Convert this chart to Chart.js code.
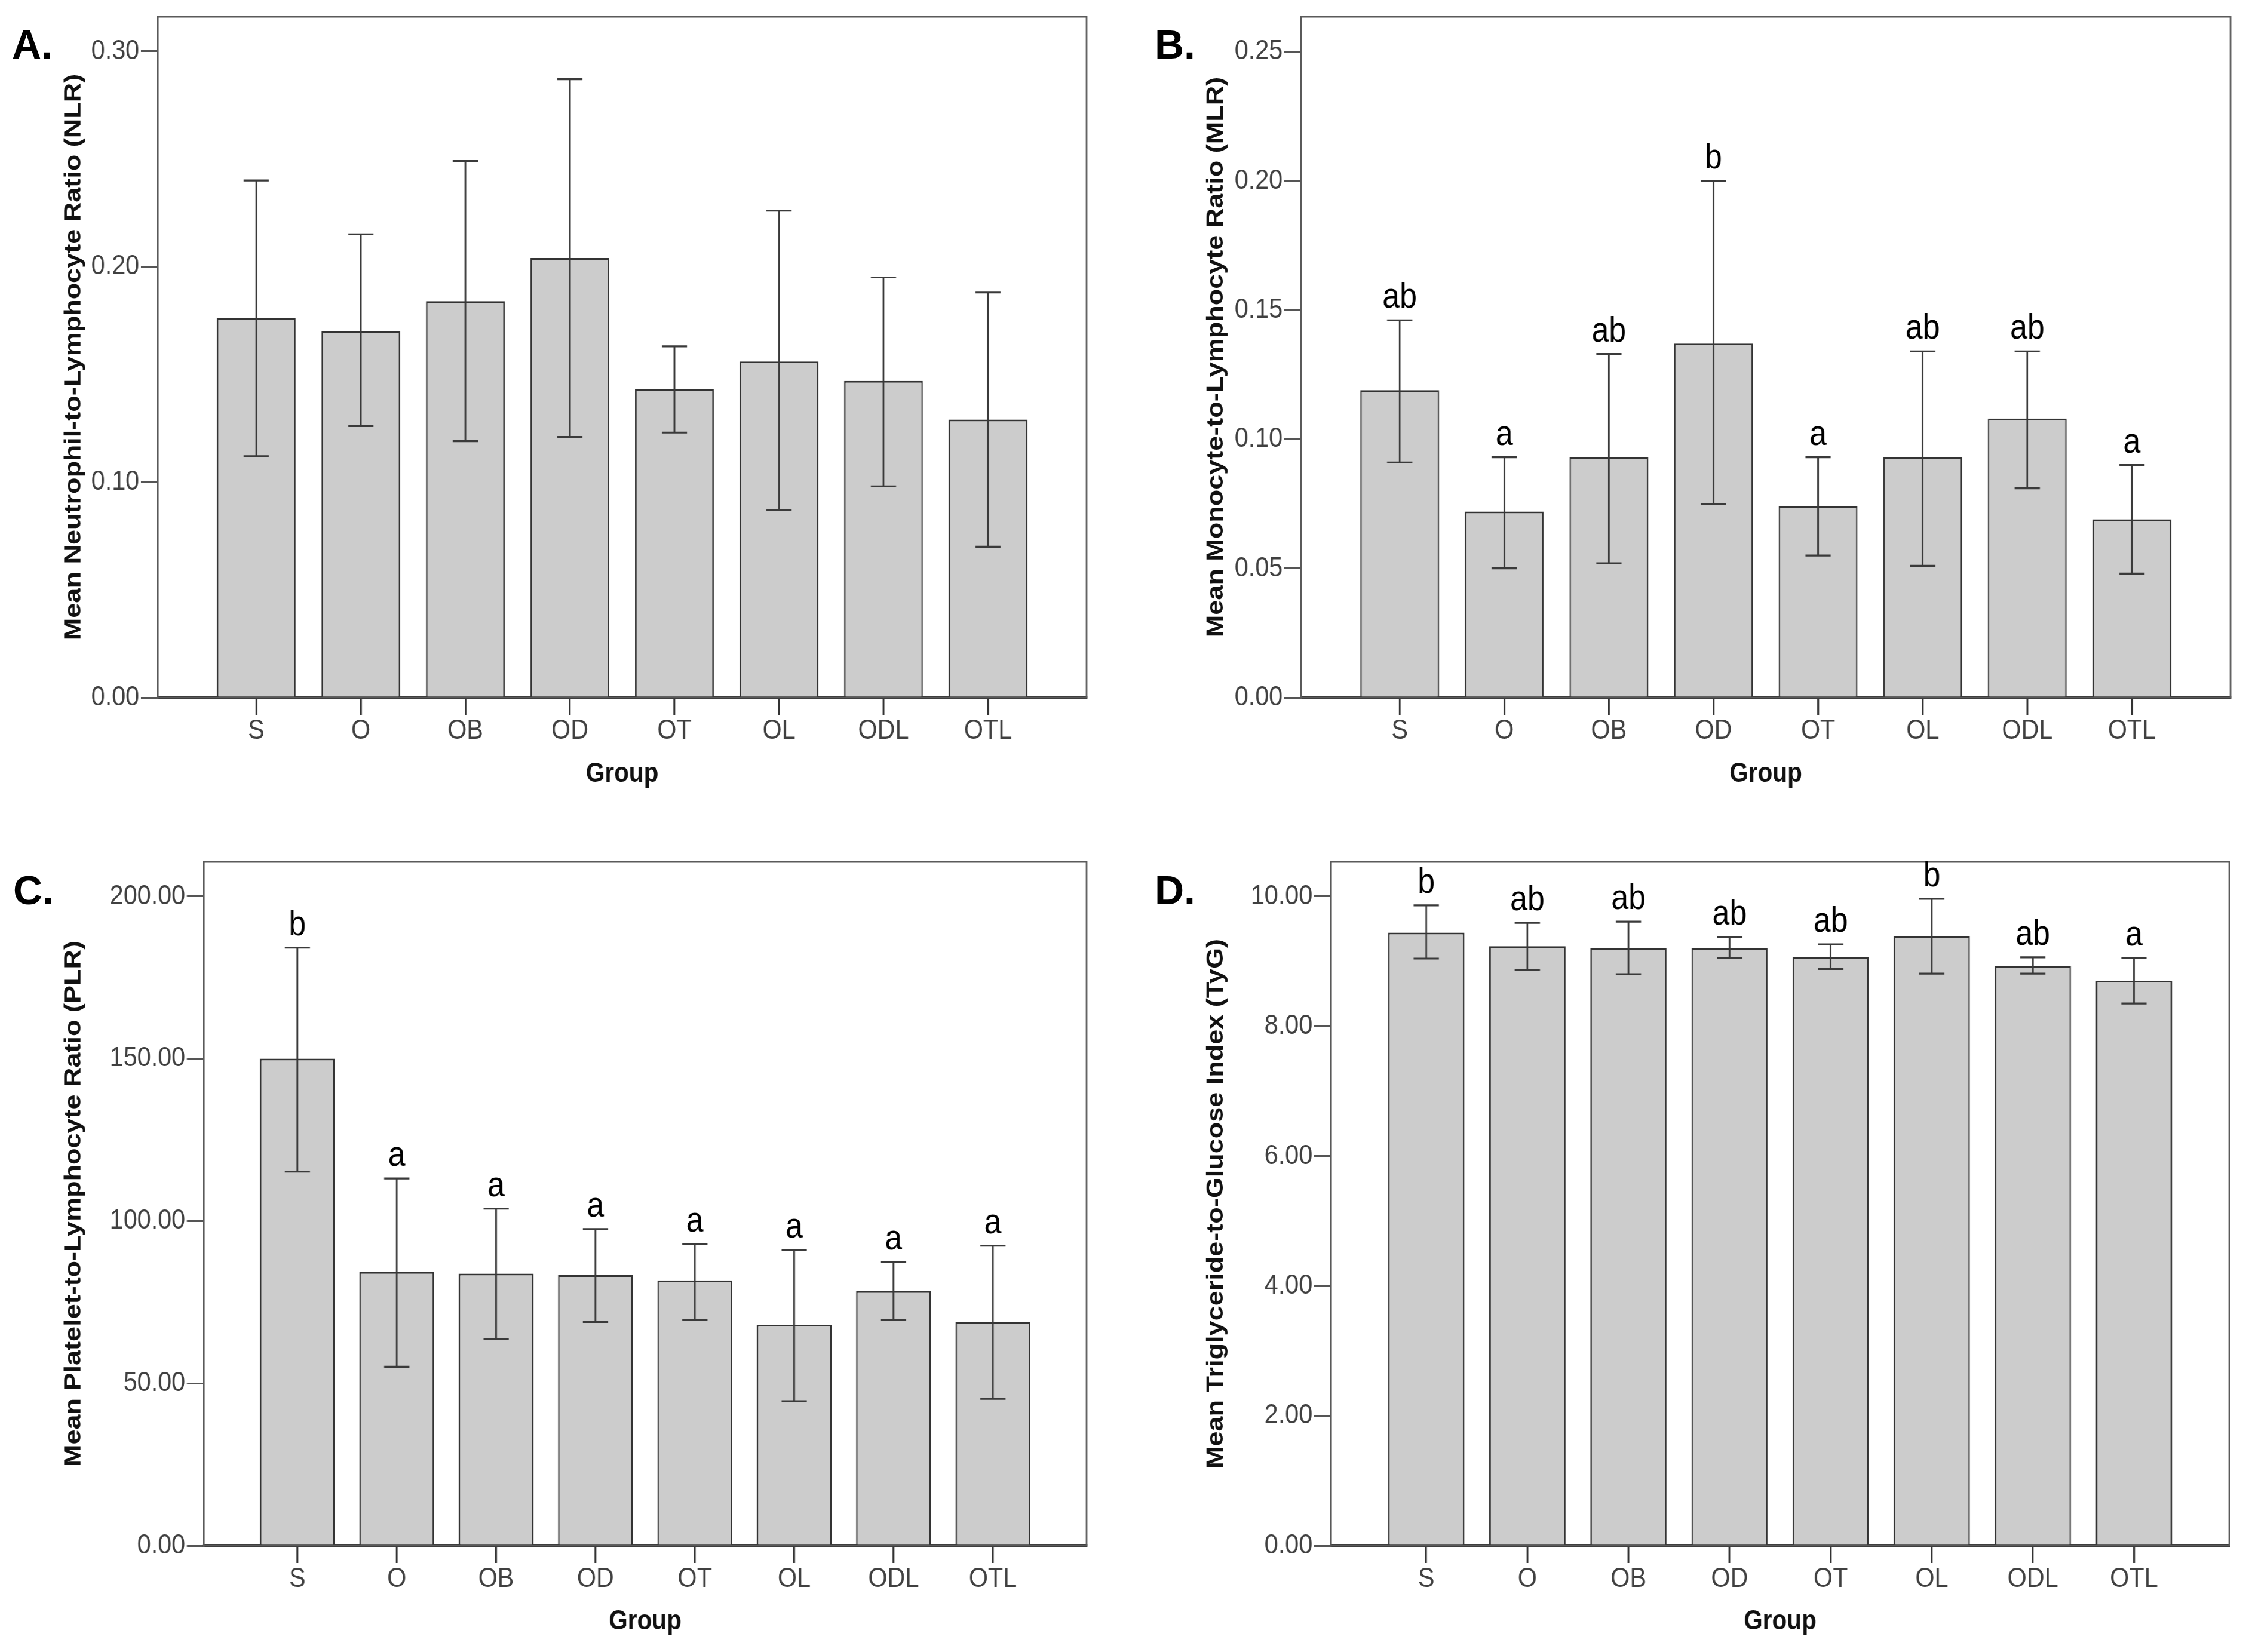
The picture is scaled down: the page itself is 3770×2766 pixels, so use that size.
<!DOCTYPE html>
<html>
<head>
<meta charset="utf-8">
<script src="https://cdn.jsdelivr.net/npm/chart.js@4.4.0/dist/chart.umd.min.js"></script>
<style>
  body { margin: 0; background: #fff; }
  #wrap { position: relative; width: 3770px; height: 2766px; overflow: hidden; background: #fff; }
  #wrap canvas { position: absolute; }
  .tag { position: absolute; font: bold 68px 'Liberation Sans', Arial, sans-serif; line-height: 1; color: #000; }
</style>
</head>
<body>
<div id="wrap">
  <canvas id="nlr" width="2142" height="1383" style="left:0;top:0;width:1885px;height:1383px"></canvas>
  <canvas id="mlr" width="2142" height="1383" style="left:1885px;top:0;width:1885px;height:1383px"></canvas>
  <canvas id="plr" width="2142" height="1383" style="left:0;top:1383px;width:1885px;height:1383px"></canvas>
  <canvas id="tyg" width="2142" height="1383" style="left:1885px;top:1383px;width:1885px;height:1383px"></canvas>
  <div class="tag" style="left:20px;top:40px">A.</div>
  <div class="tag" style="left:1933px;top:40px">B.</div>
  <div class="tag" style="left:22px;top:1456px">C.</div>
  <div class="tag" style="left:1933px;top:1456px">D.</div>
</div>
<script>
const groups = ["S", "O", "OB", "OD", "OT", "OL", "ODL", "OTL"];

// A. NLR
const nlrMean = [0.176, 0.170, 0.184, 0.204, 0.143, 0.156, 0.147, 0.129];
const nlrLow  = [0.112, 0.126, 0.119, 0.121, 0.123, 0.087, 0.098, 0.070];
const nlrHigh = [0.240, 0.215, 0.249, 0.287, 0.163, 0.226, 0.195, 0.188];
const nlrTicks = [0, 0.10, 0.20, 0.30];

// B. MLR
const mlrMean = [0.119, 0.072, 0.093, 0.137, 0.074, 0.093, 0.108, 0.069];
const mlrLow  = [0.091, 0.050, 0.052, 0.075, 0.055, 0.051, 0.081, 0.048];
const mlrHigh = [0.146, 0.093, 0.133, 0.200, 0.093, 0.134, 0.134, 0.090];
const mlrLetters = ["ab", "a", "ab", "b", "a", "ab", "ab", "a"];
const mlrTicks = [0, 0.05, 0.10, 0.15, 0.20, 0.25];

// C. PLR
const plrMean = [150.0, 84.3, 83.8, 83.3, 81.7, 68.0, 78.4, 68.8];
const plrLow  = [115.2, 55.1, 63.6, 68.9, 69.6, 44.5, 69.6, 45.2];
const plrHigh = [184.2, 113.1, 103.8, 97.5, 92.9, 91.1, 87.4, 92.4];
const plrLetters = ["b", "a", "a", "a", "a", "a", "a", "a"];
const plrTicks = [0, 50, 100, 150, 200];

// D. TyG
const tygMean = [9.44, 9.23, 9.20, 9.20, 9.06, 9.39, 8.93, 8.70];
const tygLow  = [9.04, 8.87, 8.80, 9.05, 8.88, 8.81, 8.81, 8.35];
const tygHigh = [9.86, 9.59, 9.61, 9.37, 9.26, 9.96, 9.06, 9.05];
const tygLetters = ["b", "ab", "ab", "ab", "ab", "b", "ab", "a"];
const tygTicks = [0, 2, 4, 6, 8, 10];

// canvases are drawn wider and squeezed back by css, like the original figure
const SQUEEZE = 1885 / 2142;
const sans = "'Liberation Sans', Arial, sans-serif";
const tickFont = { family: sans, size: 47, lineHeight: 1 };

function errorBars(low, high, letters) {
    return {
        id: "errorBars",
        beforeDatasetsDraw(chart) {
            const { ctx, chartArea: a } = chart;
            ctx.save();
            ctx.strokeStyle = "#5a5a5a";
            ctx.lineWidth = 3;
            ctx.strokeRect(a.left, a.top, a.right - a.left, a.bottom - a.top);
            ctx.restore();
        },
        afterDatasetsDraw(chart) {
            const { ctx, scales: { x, y } } = chart;
            ctx.save();
            ctx.strokeStyle = "#3a3a3a";
            ctx.lineWidth = 3.2;
            ctx.fillStyle = "#000";
            ctx.font = "59px " + sans;
            ctx.textAlign = "center";
            ctx.textBaseline = "alphabetic";
            const cap = 24;
            for (let i = 0; i < low.length; i++) {
                const px = x.getPixelForValue(i);
                const lo = y.getPixelForValue(low[i]);
                const hi = y.getPixelForValue(high[i]);
                ctx.beginPath();
                ctx.moveTo(px, lo);
                ctx.lineTo(px, hi);
                ctx.moveTo(px - cap, hi);
                ctx.lineTo(px + cap, hi);
                ctx.moveTo(px - cap, lo);
                ctx.lineTo(px + cap, lo);
                ctx.stroke();
                if (letters) {
                    ctx.fillText(letters[i], px, hi - 21);
                }
            }
            ctx.restore();
        }
    };
}

function makePanel(id, p) {
    const sx = v => v / SQUEEZE;
    new Chart(document.getElementById(id), {
        type: "bar",
        data: {
            datasets: [{
                data: p.mean.map((m, i) => ({ x: i, y: m })),
                backgroundColor: "#cccccc",
                borderColor: "#333333",
                borderWidth: 3,
                categoryPercentage: 1,
                barPercentage: 0.754,
            }],
        },
        options: {
            responsive: false,
            animation: false,
            devicePixelRatio: 1,
            layout: { padding: { top: p.padTop, right: sx(p.padRight), left: 0, bottom: 0 } },
            plugins: { legend: { display: false }, tooltip: { enabled: false } },
            scales: {
                x: {
                    type: "linear",
                    min: -0.943,
                    max: 7.943,
                    offset: false,
                    afterBuildTicks: ax => { ax.ticks = groups.map((g, i) => ({ value: i })); },
                    afterFit: ax => { ax.height = p.xAxisH; },
                    ticks: {
                        callback: v => groups[v],
                        autoSkip: false,
                        maxRotation: 0,
                        padding: 4,
                        color: "#404040",
                        font: tickFont,
                    },
                    grid: { offset: false, drawOnChartArea: false, tickLength: 29, color: "#333", lineWidth: 3.4 },
                    border: { color: "#222", width: 4 },
                    title: {
                        display: true,
                        text: "Group",
                        color: "#111",
                        font: { family: sans, size: 46, weight: "bold" },
                        padding: { top: 0, bottom: p.xTitlePad },
                    },
                },
                y: {
                    min: 0,
                    max: p.max,
                    afterBuildTicks: ax => { ax.ticks = p.ticks.map(v => ({ value: v })); },
                    afterFit: ax => { ax.width = sx(p.yAxisW); },
                    ticks: {
                        callback: v => v.toFixed(2),
                        padding: 3,
                        color: "#404040",
                        font: tickFont,
                    },
                    grid: { drawOnChartArea: false, tickLength: 32, color: "#555", lineWidth: 3 },
                    border: { color: "#555", width: 3.4 },
                    title: {
                        display: true,
                        text: p.title,
                        color: "#111",
                        font: { family: sans, size: 45, weight: "bold" },
                        padding: { top: sx(p.titleX) - 27, bottom: 0 },
                    },
                },
            },
        },
        plugins: [errorBars(p.low, p.high, p.letters)],
    });
}

makePanel("nlr", {
    mean: nlrMean, low: nlrLow, high: nlrHigh, letters: null,
    ticks: nlrTicks, max: 0.316,
    title: "Mean Neutrophil-to-Lymphocyte Ratio (NLR)",
    yAxisW: 264, xAxisH: 215, padTop: 28, padRight: 66, titleX: 124, xTitlePad: 59,
});
makePanel("mlr", {
    mean: mlrMean, low: mlrLow, high: mlrHigh, letters: mlrLetters,
    ticks: mlrTicks, max: 0.2635,
    title: "Mean Monocyte-to-Lymphocyte Ratio (MLR)",
    yAxisW: 293, xAxisH: 215, padTop: 28, padRight: 36, titleX: 151, xTitlePad: 59,
});
makePanel("plr", {
    mean: plrMean, low: plrLow, high: plrHigh, letters: plrLetters,
    ticks: plrTicks, max: 210.6,
    title: "Mean Platelet-to-Lymphocyte Ratio (PLR)",
    yAxisW: 341, xAxisH: 178, padTop: 60, padRight: 66, titleX: 124, xTitlePad: 23,
});
makePanel("tyg", {
    mean: tygMean, low: tygLow, high: tygHigh, letters: tygLetters,
    ticks: tygTicks, max: 10.53,
    title: "Mean Triglyceride-to-Glucose Index (TyG)",
    yAxisW: 343, xAxisH: 178, padTop: 60, padRight: 38, titleX: 151, xTitlePad: 23,
});
</script>
</body>
</html>
